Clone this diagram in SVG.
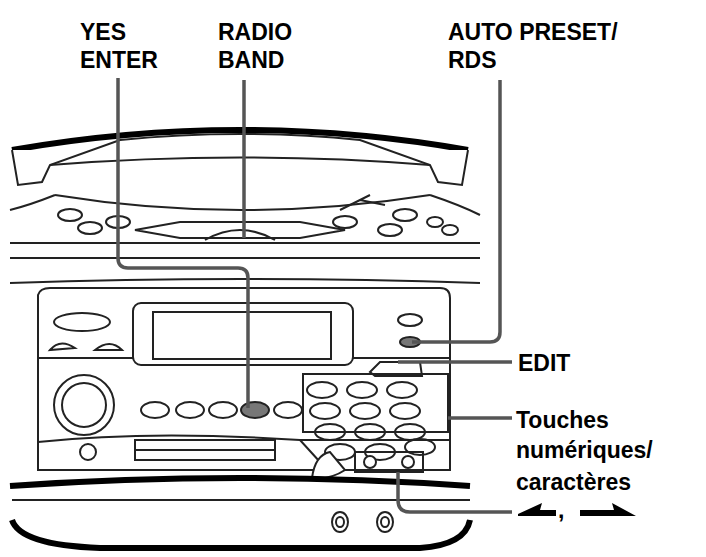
<svg xmlns="http://www.w3.org/2000/svg" width="706" height="557" viewBox="0 0 706 557">
<style>
.lbl{font-family:"Liberation Sans",Arial,sans-serif;font-weight:bold;font-size:23px;fill:#000}
.d{fill:none;stroke:#222;stroke-width:2}
.b{fill:#fff;stroke:#222;stroke-width:2}
.c{fill:none;stroke:#555;stroke-width:3.5}
.k{fill:none;stroke:#000;stroke-width:6}
</style>
<rect width="706" height="557" fill="#fff"/>
<g id="device">
<path class="k" d="M12,150 Q240,110 468,150"/>
<path class="b" d="M12,150 L18,185 L42,182 L50,165 L120,140 Q240,128 360,140 L430,165 L438,182 L462,185 L468,150"/>
<path class="d" d="M50,165 Q240,150 430,165"/>
<path class="d" d="M55,195 Q240,225 430,195"/>
<path class="d" d="M10,210 Q30,205 55,195 M430,195 Q460,205 480,215"/>
<g class="b">
<ellipse cx="70" cy="215" rx="12" ry="6"/><ellipse cx="90" cy="228" rx="12" ry="6"/><ellipse cx="118" cy="222" rx="12" ry="6"/>
<ellipse cx="345" cy="222" rx="12" ry="6"/><ellipse cx="405" cy="215" rx="12" ry="6"/><ellipse cx="390" cy="230" rx="12" ry="6"/>
<ellipse cx="435" cy="222" rx="8" ry="5"/><ellipse cx="450" cy="230" rx="8" ry="5"/>
</g>
<path class="d" d="M135,230 L180,222 L300,222 L345,230 L300,238 L180,238 Z M205,240 Q240,220 275,240"/>
<path class="d" d="M340,210 L360,200 L370,195 M360,200 L385,205"/>
<path class="d" d="M10,243 L480,243 M10,258 L480,258 M10,283 Q240,275 480,283"/>
<path class="b" d="M38,295 Q40,288 50,288 L440,288 Q450,288 450,298 L450,470 L38,470 Z"/>
<rect class="b" x="133" y="303" width="220" height="62" rx="8"/>
<rect class="d" x="153" y="312" width="178" height="47"/>
<path class="d" d="M38,358 L133,358 M353,358 L450,358"/>
<ellipse class="b" cx="82" cy="322" rx="28" ry="9"/>
<path class="b" d="M50,350 Q60,338 75,348 Z M95,350 Q110,338 122,350 Z"/>
<circle class="b" cx="84" cy="405" r="30"/><circle class="d" cx="84" cy="405" r="22"/>
<g class="b">
<ellipse cx="155" cy="410" rx="14" ry="8"/><ellipse cx="190" cy="410" rx="14" ry="8"/><ellipse cx="223" cy="410" rx="14" ry="8"/>
<ellipse cx="255" cy="410" rx="14" ry="8" fill="#777"/><ellipse cx="288" cy="410" rx="14" ry="8"/>
<ellipse cx="322" cy="390" rx="15" ry="8"/><ellipse cx="362" cy="390" rx="15" ry="8"/><ellipse cx="402" cy="390" rx="15" ry="8"/>
<ellipse cx="325" cy="411" rx="15" ry="8"/><ellipse cx="365" cy="411" rx="15" ry="8"/><ellipse cx="405" cy="411" rx="15" ry="8"/>
<ellipse cx="330" cy="432" rx="15" ry="8"/><ellipse cx="370" cy="432" rx="15" ry="8"/><ellipse cx="410" cy="432" rx="15" ry="8"/>
<ellipse cx="340" cy="452" rx="15" ry="8"/><ellipse cx="380" cy="452" rx="15" ry="8"/><ellipse cx="420" cy="447" rx="15" ry="8"/>
<circle cx="370" cy="462" r="6"/><circle cx="408" cy="462" r="6"/>
<ellipse cx="410" cy="320" rx="12" ry="6"/><ellipse cx="410" cy="342" rx="10" ry="5" fill="#777"/>
<path d="M370,372 L380,362 L420,362 L422,376 L375,376 Z"/>
</g>
<path class="d" d="M38,442 Q150,430 300,440 L320,462 M300,440 L450,440"/>
<rect class="b" x="135" y="440" width="140" height="20"/><path class="d" d="M135,450 L275,450"/>
<circle class="b" cx="88" cy="452" r="8"/>
<path class="b" d="M312,478 Q315,455 330,452 L345,470 Q330,480 312,478 Z"/>
<rect class="d" x="303" y="374" width="145" height="58"/>
<rect class="d" x="355" y="452" width="68" height="20"/>
<path class="k" d="M10,486 Q240,470 470,486"/>
<path class="k" d="M12,520 Q20,545 100,548 L420,548 Q465,545 470,520"/>
<path class="d" d="M12,500 L470,500"/>
<ellipse class="b" cx="340" cy="522" rx="8" ry="10"/><ellipse class="d" cx="340" cy="522" rx="4" ry="5"/>
<ellipse class="b" cx="385" cy="522" rx="8" ry="10"/><ellipse class="d" cx="385" cy="522" rx="4" ry="5"/>
</g>
<g id="connectors">
<path class="c" d="M118,78 L118,258 Q118,268 128,268 L238,268 Q248,268 248,278 L248,408"/>
<path class="c" d="M244,80 L244,238"/>
<path class="c" d="M500,80 L500,332 Q500,342 490,342 L412,342"/>
<path class="c" d="M398,362 L512,362"/>
<path class="c" d="M448,418 L512,418"/>
<path class="c" d="M398,472 L398,500 Q398,512 410,512 L512,512"/>
</g>
<g id="labels">
<text class="lbl" x="80" y="40">YES</text>
<text class="lbl" x="80" y="68">ENTER</text>
<text class="lbl" x="218" y="40">RADIO</text>
<text class="lbl" x="218" y="68">BAND</text>
<text class="lbl" x="448" y="40">AUTO PRESET/</text>
<text class="lbl" x="448" y="68">RDS</text>
<text class="lbl" x="518" y="371">EDIT</text>
<text class="lbl" x="516" y="428">Touches</text>
<text class="lbl" x="516" y="458">numériques/</text>
<text class="lbl" x="516" y="490">caractères</text>
<text class="lbl" x="558" y="518">,</text>
<polygon points="518,514 542,503 540,510 556,510 556,516 518,516" fill="#000"/>
<polygon points="580,510 614,510 612,503 636,516 580,516" fill="#000"/>
</g>
</svg>
